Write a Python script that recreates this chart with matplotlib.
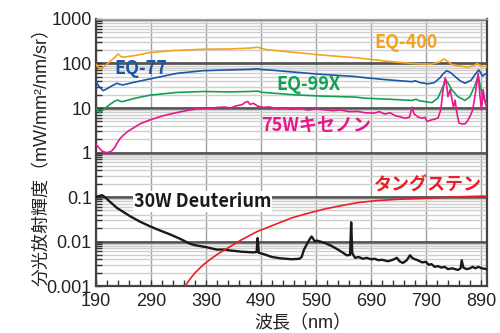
import numpy as np
import matplotlib
matplotlib.use('Agg')
import matplotlib.pyplot as plt
from matplotlib.ticker import FixedLocator, LogLocator, NullFormatter

plt.rcParams['font.family'] = ['Liberation Sans', 'Noto Sans CJK JP']

# --- data (wavelength nm, radiance) ---
eq400_x = [190, 197, 205, 215, 225, 230, 235, 239, 250, 260, 288, 330, 385, 434, 470, 484, 490,
           500, 550, 600, 661, 679, 720, 765, 780, 800, 815, 823, 830, 837, 850, 866, 876, 883, 890, 900]
eq400_y = [95, 74, 85, 110, 140, 164, 145, 138, 145, 150, 176, 195, 209, 212, 222, 232, 220,
           205, 178, 155, 135, 128, 112, 100, 98, 97, 108, 127, 110, 95, 88, 83, 88, 100, 88, 85]

eq77_x = [190, 196, 203, 212, 220, 228, 233, 239, 260, 288, 337, 385, 434, 470, 484, 492, 503, 550,
          600, 661, 679, 720, 765, 770, 780, 794, 805, 815, 822, 828, 835, 843, 852, 861, 872, 880,
          886, 890, 893, 897, 900]
eq77_y = [39, 30, 24.5, 28, 32, 36, 34, 33, 38, 45, 60, 69, 72, 74, 76, 73, 72, 64,
          57, 51, 48, 43, 39, 41, 37, 35, 37, 47, 60, 69, 62, 51, 41, 36, 42, 58,
          72, 60, 52, 57, 60]

eq99x_x = [190, 197, 205, 215, 225, 230, 235, 239, 260, 288, 337, 385, 434, 470, 484, 492, 503, 550,
           600, 661, 679, 720, 765, 772, 778, 801, 812, 818, 826, 831, 837, 848, 861, 870, 878, 885,
           889, 893, 900]
eq99x_y = [10, 7.9, 9.5, 12, 14.5, 15, 14, 14, 16.5, 19.4, 22.4, 23.5, 23, 23.5, 24, 22.5, 22, 19.8,
           18.5, 17.6, 16.6, 15.8, 14.8, 15.8, 14.5, 13.2, 17, 25, 43, 35, 25.7, 18, 14.8, 18, 30, 51,
           30, 18, 12.8]

xe75_x = [190, 195, 200, 205, 210, 215, 219, 224, 228, 233, 239, 248, 257, 270, 288, 310, 337, 360,
          385, 400, 410, 424, 435, 445, 455, 462, 466, 470, 476, 484, 495, 505, 520, 530, 546, 560,
          575, 590, 606, 620, 635, 650, 666, 680, 697, 705, 715, 725, 734, 742, 752, 760, 765, 768,
          775, 783, 788, 792, 800, 806, 812, 817, 821, 825, 828, 830, 834, 838, 840, 843, 846, 850,
          855, 861, 866, 870, 875, 880, 885, 888, 891, 894, 897, 900]
xe75_y = [1.5, 1.3, 1.1, 1.02, 1.0, 1.03, 1.1, 1.3, 1.6, 2.0, 2.4, 3.0, 3.5, 4.4, 5.4, 6.6, 7.9, 9.0,
          10, 9.8, 10.3, 10.5, 10.0, 11.2, 11.8, 13.5, 14, 12.0, 12.8, 11, 10.3, 10.6, 9.6, 10.1, 9.4, 9.9,
          9.0, 9.5, 9.1, 8.7, 9.0, 8.3, 8.4, 7.8, 7.7, 8.3, 7.3, 7.8, 6.7, 6.4, 5.9, 6.2, 10.5, 7.5,
          6.3, 5.9, 6.2, 5.0, 5.4, 5.6, 6.0, 9.1, 25, 48, 30, 18, 26, 14, 10.7, 15, 8, 4.6,
          4.4, 4.4, 5.2, 6.5, 9, 22, 60, 20, 9, 26, 14, 10.7]

d2_x = [190, 195, 201, 207, 215, 228, 240, 252, 270, 288, 305, 325, 345, 361, 370, 379, 390, 400,
        410, 424, 434, 445, 455, 466, 475, 482, 484, 486, 495, 510, 525, 546, 560, 564, 568, 573,
        578, 582, 585, 588, 592, 600, 606, 618, 630, 640, 646, 652, 654, 656, 661, 668, 675, 682,
        690, 697, 704, 710, 721, 730, 737, 742, 748, 755, 761, 765, 768, 775, 783, 790, 795, 800,
        806, 812, 818, 824, 830, 838, 848, 853, 855, 858, 864, 870, 875, 880, 885, 892, 900]
d2_y = [0.100, 0.105, 0.11, 0.098, 0.079, 0.057, 0.046, 0.037, 0.028, 0.022, 0.018, 0.0144, 0.0112,
        0.0089, 0.0083, 0.0079, 0.0075, 0.0070, 0.0066, 0.0066, 0.0063, 0.0061, 0.0059, 0.0058,
        0.0057, 0.0058, 0.012, 0.0056, 0.0052, 0.0045, 0.0042, 0.0040, 0.0041, 0.0045, 0.0065,
        0.0085, 0.011, 0.013, 0.0115, 0.010, 0.0105, 0.0098, 0.0093, 0.0080, 0.0066, 0.0055, 0.0049,
        0.0050, 0.027, 0.0055, 0.0043, 0.0045, 0.0041, 0.0043, 0.0040, 0.0041, 0.0038, 0.0039,
        0.0036, 0.0039, 0.0043, 0.0036, 0.0033, 0.0038, 0.0049, 0.0043, 0.0041, 0.0038, 0.0034,
        0.0035, 0.0030, 0.0031, 0.0027, 0.0028, 0.0026, 0.0027, 0.0024, 0.0025, 0.0023, 0.0025,
        0.0038, 0.0026, 0.0024, 0.0025, 0.0027, 0.0025, 0.0027, 0.0025, 0.0024]

w_x = [352, 362, 372, 385, 398, 410, 422, 434, 455, 484, 515, 546, 575, 606, 636, 666, 700, 740,
       783, 830, 870, 900]
w_y = [0.001, 0.0015, 0.0021, 0.0030, 0.0040, 0.0051, 0.0063, 0.0077, 0.011, 0.017, 0.024, 0.034,
       0.043, 0.054, 0.064, 0.075, 0.083, 0.089, 0.093, 0.099, 0.103, 0.105]

x_ticks = [190, 290, 390, 490, 590, 690, 790, 890]
y_ticks = [0.001, 0.01, 0.1, 1, 10, 100, 1000]
y_labels = ['0.001', '0.01', '0.1', '1', '10', '100', '1000']

fig = plt.figure(figsize=(5, 3.33), dpi=100)
ax = fig.add_axes([0.192, 0.141, 0.782, 0.802])
ax.set_yscale('log')
ax.set_xlim(190, 901)
ax.set_ylim(0.001, 1000)

# grid
ax.set_axisbelow(True)
ax.yaxis.set_minor_locator(LogLocator(base=10, subs=np.arange(2, 10)))
ax.yaxis.set_minor_formatter(NullFormatter())
ax.xaxis.set_minor_locator(FixedLocator(np.arange(190, 901, 20)))
ax.grid(True, which='minor', axis='y', color='#cfcfcf', lw=1.0)
ax.grid(True, which='major', axis='y', color='#555555', lw=2.0)
ax.grid(True, which='major', axis='x', color='#a0a0a0', lw=1.0)

ax.set_xticks(x_ticks)
ax.set_yticks(y_ticks)
ax.set_yticklabels(y_labels)
ax.tick_params(axis='both', which='both', direction='in', color='#333333', labelsize=13,
               labelcolor='#222222')
ax.tick_params(axis='both', which='major', length=4, width=1, pad=3)
ax.tick_params(axis='x', which='major', pad=5)
ax.tick_params(axis='both', which='minor', length=4, width=1)

for side in ['left', 'bottom', 'right']:
    ax.spines[side].set_color('#444444')
    ax.spines[side].set_linewidth(1.6)
ax.spines['top'].set_color('#aaaaaa')
ax.spines['top'].set_linewidth(1.0)

# curves
ax.plot(eq400_x, eq400_y, color='#F5A21F', lw=1.2, zorder=4)
ax.plot(eq77_x, eq77_y, color='#1C56A8', lw=1.2, zorder=4)
ax.plot(eq99x_x, eq99x_y, color='#12A154', lw=1.2, zorder=4)
ax.plot(xe75_x, xe75_y, color='#E8178A', lw=1.2, zorder=4)
ax.plot(d2_x, d2_y, color='#1a1a1a', lw=1.7, zorder=4)
ax.plot(w_x, w_y, color='#EE1D25', lw=1.2, zorder=4)

# labels
lab = dict(fontsize=13, fontweight='bold', family=['Noto Sans CJK JP'], ha='center', va='center')
ax.text(754, 290, 'EQ-400', color='#F5A21F', **lab)
ax.text(272, 79, 'EQ-77', color='#1C56A8', **lab)
ax.text(577, 33, 'EQ-99X', color='#12A154', **lab)
ax.text(591, 4.0, '75Wキセノン', color='#E8178A', **lab)
ax.text(384, 0.079, '30W Deuterium', color='#1a1a1a', zorder=3,
        bbox=dict(facecolor='white', edgecolor='none', pad=0.5), **lab)
ax.text(794, 0.19, 'タングステン', color='#EE1D25', **lab)

ax.set_xlabel('波長（nm）', fontsize=13, color='#222222', labelpad=1)
ax.xaxis.set_label_coords(0.53, -0.11)
ax.set_ylabel('分光放射輝度（mW/mm²/nm/sr）', fontsize=13, color='#222222', labelpad=-3)

fig.savefig('out.png', dpi=100)
